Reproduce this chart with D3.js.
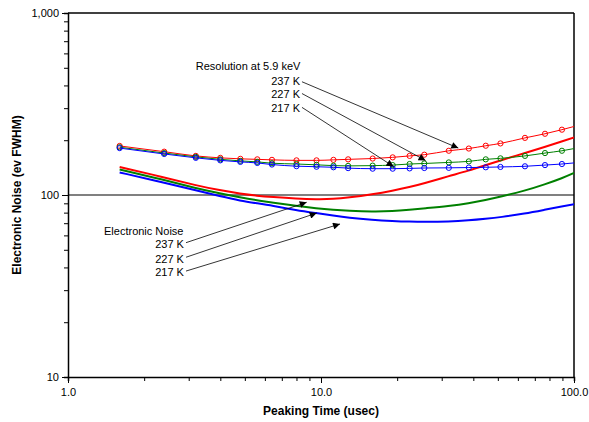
<!DOCTYPE html>
<html>
<head>
<meta charset="utf-8">
<script src="https://cdn.jsdelivr.net/npm/d3@7"></script>
<style>
  body { margin: 0; background: #fff; }
  svg text { font-family: "Liberation Sans", Arial, sans-serif; }
</style>
</head>
<body>
<div id="chart"></div>
<script>
// peaking times (usec)
var peakTimes = [1.6, 2.4, 3.2, 4.0, 4.8, 5.6, 6.4, 8.0, 9.6, 11.2, 12.8, 16, 19.2,
  22.4, 25.6, 32, 38.4, 44.8, 51.2, 64, 76.8, 89.6, 102.4];

// resolution at 5.9 keV (eV FWHM)
var res237 = [186, 173, 164, 160, 158, 157, 156, 155, 155, 156, 157, 158.6, 161,
  164, 166.5, 175, 180, 186.5, 192, 206, 217, 228.5, 240];
var res227 = [183, 170, 162, 157, 154, 152, 149.5, 148, 146.5, 145, 144.5, 145, 146,
  148, 149, 151, 153, 157, 159, 164, 170, 175, 181];
var res217 = [181, 168, 160, 155, 152, 150, 147, 144, 143, 142, 140.5, 139.5, 139.5,
  140, 140.7, 141, 141.5, 142, 142.6, 143.8, 146, 148, 150.5];

// electronic noise (eV FWHM)
var en237 = [142.5, 125, 113, 106, 101.7, 99, 97.5, 95.5, 94.7, 95, 96.7, 100.9, 105.6,
  110.5, 116, 127, 136, 146, 155, 170, 184, 197, 209];
var en227 = [138, 121, 109, 102, 97, 93.5, 91, 87, 84.5, 83, 82, 81, 81.5,
  83, 84.5, 87, 90, 94, 98, 105.5, 114.5, 123.5, 134];
var en217 = [133, 117, 106, 98.4, 93, 90, 87.5, 82.5, 79.5, 77, 75, 73, 72,
  71.4, 71.2, 71.4, 72.5, 74, 75.5, 79, 83, 86.5, 89.5];

var xTicks = [1, 10, 100];
var yTicks = [10, 100, 1000];
var tempLabels = ['237 K', '227 K', '217 K'];
var colors = ['#ff0000', '#008000', '#0000ff'];

// annotation anchors, in data units (usec, eV)
var resTitle = {x: 3.2, y: 486, text: 'Resolution at 5.9 keV'};
var resLabelX = 8.26, resLabelY = [402, 341, 286];
var resArrowFrom = {x: 8.41, y: [419, 361, 303]};
var resArrowTo = [{x: 34.9, y: 181}, {x: 25.9, y: 154.7}, {x: 19.35, y: 143.4}];

var enTitle = {x: 1.388, y: 60.3, text: 'Electronic Noise'};
var enLabelX = 2.873, enLabelY = [50.9, 42.5, 35.8];
var enArrowFrom = {x: 2.927, y: [54.7, 45.5, 38.2]};
var enArrowTo = [{x: 8.78, y: 91.2}, {x: 9.62, y: 79.6}, {x: 11.89, y: 69.3}];

var margin = {left: 68, right: 15, top: 13, bottom: 45};
var width = 589 - margin.left - margin.right,
  height = 422 - margin.top - margin.bottom;

var svg = d3.select('#chart').append('svg')
  .attr('width', 589)
  .attr('height', 422);

var g = svg.append('g')
  .attr('transform', 'translate(' + margin.left + ',' + margin.top + ')');

var x = d3.scaleLog().domain([1, 100]).range([0, width]);
var y = d3.scaleLog().domain([10, 1000]).range([height, 0]);

svg.append('defs').append('clipPath')
  .attr('id', 'plot-clip')
  .append('rect')
  .attr('width', width)
  .attr('height', height);

svg.select('defs').append('marker')
  .attr('id', 'arrow')
  .attr('markerUnits', 'userSpaceOnUse')
  .attr('viewBox', '0 0 10 10')
  .attr('refX', 10).attr('refY', 5)
  .attr('markerWidth', 8).attr('markerHeight', 7)
  .attr('orient', 'auto')
  .append('path')
  .attr('d', 'M0,0L10,5L0,10Z')
  .attr('fill', '#000');

// gridline at 100
g.append('line')
  .attr('x1', 0).attr('x2', width)
  .attr('y1', y(100)).attr('y2', y(100))
  .attr('stroke', '#808080')
  .attr('stroke-width', 2);

// axes
var xAxis = d3.axisBottom(x)
  .tickValues(d3.range(1, 10).concat(d3.range(10, 101, 10)))
  .tickSize(4)
  .tickFormat(function (d) { return xTicks.indexOf(d) >= 0 ? d3.format('.1f')(d) : ''; });

var yAxis = d3.axisLeft(y)
  .tickValues(d3.range(10, 100, 10).concat(d3.range(100, 1001, 100)))
  .tickSize(4)
  .tickFormat(function (d) { return yTicks.indexOf(d) >= 0 ? d3.format(',')(d) : ''; });

var gX = g.append('g')
  .attr('transform', 'translate(0,' + height + ')')
  .call(xAxis);
var gY = g.append('g').call(yAxis);

[gX, gY].forEach(function (ax) {
  ax.select('.domain').attr('stroke', '#000').attr('stroke-width', 1.5);
  ax.selectAll('.tick line').attr('stroke', '#000');
  ax.selectAll('.tick text')
    .attr('font-size', 11)
    .attr('font-family', '"Liberation Sans", Arial, sans-serif')
    .attr('fill', '#000');
});
gX.selectAll('.tick text').attr('dy', '1.1em');
gX.selectAll('.tick').filter(function (d) { return xTicks.indexOf(d) >= 0; })
  .select('line').attr('y2', 6);
gY.selectAll('.tick').filter(function (d) { return yTicks.indexOf(d) >= 0; })
  .select('line').attr('x2', -6);
gY.selectAll('.tick text').attr('x', -9);

// box top / right
g.append('line')
  .attr('x1', 0).attr('x2', width).attr('y1', 0).attr('y2', 0)
  .attr('stroke', '#000').attr('stroke-width', 1.5);
g.append('line')
  .attr('x1', width).attr('x2', width).attr('y1', 0).attr('y2', height)
  .attr('stroke', '#000').attr('stroke-width', 1.5);

var plot = g.append('g').attr('clip-path', 'url(#plot-clip)');

function series(vals) {
  return peakTimes.map(function (t, i) { return {t: t, v: vals[i]}; });
}

var line = d3.line()
  .x(function (d) { return x(d.t); })
  .y(function (d) { return y(d.v); })
  .curve(d3.curveMonotoneX);

// the noise curves are smooth fits, so use a smoothing spline
var smoothLine = d3.line()
  .x(function (d) { return x(d.t); })
  .y(function (d) { return y(d.v); })
  .curve(d3.curveBasis);

// electronic noise curves
[en237, en227, en217].forEach(function (vals, i) {
  plot.append('path')
    .attr('d', smoothLine(series(vals)))
    .attr('fill', 'none')
    .attr('stroke', colors[i])
    .attr('stroke-width', 2);
});

// resolution curves with open markers
[res237, res227, res217].forEach(function (vals, i) {
  var data = series(vals);
  plot.append('path')
    .attr('d', line(data))
    .attr('fill', 'none')
    .attr('stroke', colors[i])
    .attr('stroke-width', 1);
  plot.selectAll(null)
    .data(data.filter(function (d) { return d.t <= 100; }))
    .enter().append('circle')
    .attr('cx', function (d) { return x(d.t); })
    .attr('cy', function (d) { return y(d.v); })
    .attr('r', 2.6)
    .attr('fill', 'none')
    .attr('stroke', colors[i])
    .attr('stroke-width', 1);
});

// annotations
function label(tx, ty, text, anchor) {
  g.append('text')
    .attr('x', x(tx)).attr('y', y(ty))
    .attr('text-anchor', anchor)
    .attr('font-size', 11)
    .text(text);
}

function arrow(x1, y1, x2, y2) {
  g.append('line')
    .attr('x1', x(x1)).attr('y1', y(y1))
    .attr('x2', x(x2)).attr('y2', y(y2))
    .attr('stroke', '#000')
    .attr('stroke-width', 0.8)
    .attr('marker-end', 'url(#arrow)');
}

label(resTitle.x, resTitle.y, resTitle.text, 'start');
label(enTitle.x, enTitle.y, enTitle.text, 'start');
tempLabels.forEach(function (t, i) {
  label(resLabelX, resLabelY[i], t, 'end');
  label(enLabelX, enLabelY[i], t, 'end');
  arrow(resArrowFrom.x, resArrowFrom.y[i], resArrowTo[i].x, resArrowTo[i].y);
  arrow(enArrowFrom.x, enArrowFrom.y[i], enArrowTo[i].x, enArrowTo[i].y);
});

// axis titles
svg.append('text')
  .attr('transform', 'translate(21,' + (margin.top + height / 2) + ') rotate(-90)')
  .attr('text-anchor', 'middle')
  .attr('font-size', 12)
  .attr('font-weight', 'bold')
  .text('Electronic Noise (ev FWHM)');

svg.append('text')
  .attr('x', margin.left + width / 2)
  .attr('y', 415)
  .attr('text-anchor', 'middle')
  .attr('font-size', 12)
  .attr('font-weight', 'bold')
  .text('Peaking Time (usec)');
</script>
</body>
</html>
